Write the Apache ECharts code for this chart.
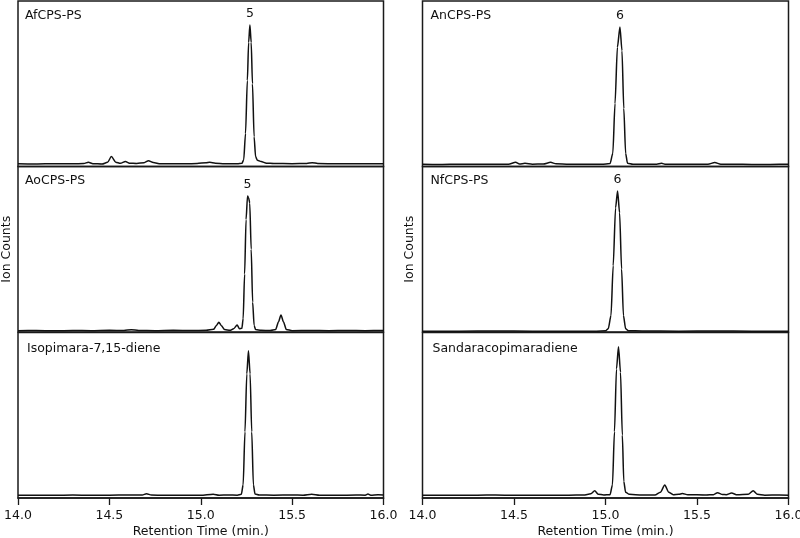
<!DOCTYPE html>
<html>
<head>
<meta charset="utf-8">
<script src="https://cdn.jsdelivr.net/npm/echarts@6/dist/echarts.min.js"></script>
<style>html,body{margin:0;padding:0;background:#fff}#c{width:800px;height:538px}</style>
</head>
<body>
<div id="c"></div>
<script>
// Panel titles and peak labels
const panelNames = ['AfCPS-PS', 'AoCPS-PS', 'Isopimara-7,15-diene', 'AnCPS-PS', 'NfCPS-PS', 'Sandaracopimaradiene'];
const peakLabels = ['5', '5', '', '6', '6', ''];
const xTicks = [14.0, 14.5, 15.0, 15.5, 16.0];

// Chromatogram traces: [retention time (min), relative ion counts]
const afCPS = [[14.0,1.6],[14.1,1.5],[14.2,1.7],[14.3,1.6],[14.36,1.8],[14.385,2.6],[14.41,1.7],[14.46,1.5],[14.49,2.5],[14.511,6.0],[14.535,2.6],[14.56,1.9],[14.588,3.0],[14.61,2.0],[14.65,1.8],[14.69,2.3],[14.714,3.5],[14.74,2.4],[14.78,1.6],[14.85,1.7],[14.92,1.6],[14.98,1.8],[15.03,2.3],[15.049,2.5],[15.08,2.0],[15.13,1.6],[15.2,1.6],[15.225,1.9],[15.235,4],[15.245,20],[15.255,52],[15.262,75],[15.269,85.5],[15.276,75],[15.283,50],[15.292,18],[15.3,6],[15.31,3.8],[15.33,3.0],[15.36,2.0],[15.4,1.8],[15.5,1.7],[15.58,1.8],[15.61,2.3],[15.64,1.8],[15.75,1.6],[15.85,1.7],[15.95,1.6],[16.0,1.7]];
const aoCPS = [[14.0,0.8],[14.1,0.9],[14.2,0.7],[14.3,0.9],[14.4,0.8],[14.5,1.0],[14.58,0.9],[14.62,1.4],[14.66,0.9],[14.75,0.8],[14.85,1.0],[14.95,0.9],[15.03,1.0],[15.07,1.6],[15.085,3.8],[15.099,5.9],[15.113,3.8],[15.13,1.5],[15.16,1.0],[15.18,2.0],[15.199,4.2],[15.212,2.0],[15.225,2.2],[15.232,8],[15.24,35],[15.248,68],[15.256,82.2],[15.262,81],[15.268,78],[15.276,50],[15.284,18],[15.292,4],[15.3,1.5],[15.33,1.0],[15.38,0.9],[15.41,1.5],[15.425,6],[15.439,10.3],[15.453,6],[15.468,1.5],[15.5,0.8],[15.6,0.9],[15.7,0.8],[15.8,0.9],[15.9,0.8],[16.0,0.9]];
const isopimara = [[14.0,1.6],[14.1,1.7],[14.2,1.6],[14.3,1.8],[14.4,1.6],[14.5,1.7],[14.6,1.8],[14.68,1.8],[14.703,2.6],[14.73,1.8],[14.8,1.6],[14.9,1.7],[15.0,1.6],[15.068,2.3],[15.1,1.7],[15.15,1.8],[15.2,1.7],[15.222,2.2],[15.232,8],[15.242,40],[15.252,75],[15.261,89],[15.27,75],[15.279,40],[15.288,8],[15.297,2.4],[15.32,1.8],[15.4,1.7],[15.5,1.8],[15.56,1.7],[15.607,2.3],[15.65,1.7],[15.75,1.6],[15.85,1.8],[15.9,1.7],[15.915,2.4],[15.93,1.7],[15.97,2.0],[16.0,1.8]];
const anCPS = [[14.0,1.3],[14.1,1.2],[14.2,1.4],[14.3,1.3],[14.4,1.3],[14.47,1.4],[14.509,2.5],[14.53,1.5],[14.56,1.9],[14.6,1.4],[14.66,1.5],[14.7,2.5],[14.73,1.6],[14.8,1.3],[14.9,1.3],[14.98,1.3],[15.025,1.8],[15.04,8],[15.052,38],[15.065,72],[15.079,84.3],[15.09,70],[15.1,35],[15.11,8],[15.12,2.0],[15.15,1.4],[15.2,1.3],[15.28,1.4],[15.306,1.9],[15.33,1.3],[15.45,1.3],[15.56,1.4],[15.597,2.4],[15.63,1.4],[15.75,1.3],[15.85,1.2],[15.95,1.3],[16.0,1.3]];
const nfCPS = [[14.0,0.5],[14.2,0.5],[14.4,0.6],[14.6,0.5],[14.8,0.5],[14.95,0.5],[15.0,0.7],[15.015,2],[15.03,10],[15.042,40],[15.055,75],[15.066,85.2],[15.077,72],[15.088,38],[15.098,10],[15.11,2],[15.125,0.8],[15.2,0.6],[15.4,0.5],[15.6,0.6],[15.8,0.5],[16.0,0.5]];
const sandaraco = [[14.0,1.6],[14.1,1.7],[14.2,1.6],[14.3,1.7],[14.4,1.8],[14.5,1.6],[14.6,1.7],[14.7,1.6],[14.8,1.7],[14.88,1.8],[14.92,2.5],[14.941,4.4],[14.96,2.3],[14.99,1.8],[15.025,2.0],[15.038,8],[15.049,40],[15.06,78],[15.071,91.4],[15.082,76],[15.092,38],[15.1,10],[15.11,3.5],[15.13,2.2],[15.2,1.8],[15.27,1.8],[15.3,3.5],[15.324,7.9],[15.345,3.5],[15.37,2.0],[15.4,2.2],[15.42,2.7],[15.45,2.0],[15.55,1.8],[15.59,2.0],[15.612,3.2],[15.64,2.1],[15.66,2.0],[15.689,3.0],[15.72,1.9],[15.78,2.2],[15.807,4.4],[15.83,2.2],[15.87,1.7],[15.95,1.8],[16.0,1.7]];

const traces = [afCPS, aoCPS, isopimara, anCPS, nfCPS, sandaraco];

const FONT = 'DejaVu Sans';
const colLeft = [18, 422.5];
const colWidth = [365.5, 366];
const yNameGap = [5, 6.5];
const rowTop = [1, 166.5, 332.5];
const rowH = 165.5;

const grids = [], xAxes = [], yAxes = [], series = [], titles = [];
for (let i = 0; i < 6; i++) {
  const col = Math.floor(i / 3), row = i % 3;
  grids.push({left: colLeft[col], top: rowTop[row], width: colWidth[col], height: rowH,
    containLabel: false, outerBoundsMode: 'none',
    show: true, borderColor: '#1a1a1a', borderWidth: 1.5, backgroundColor: 'transparent'});
  const bottom = row === 2;
  xAxes.push({type: 'value', gridIndex: i, min: xTicks[0], max: xTicks[xTicks.length-1], interval: 0.5,
    show: bottom,
    axisLine: {show: true, lineStyle: {color: '#1a1a1a', width: 1.5}},
    axisTick: {show: true, length: 7, lineStyle: {color: '#1a1a1a', width: 1.3}},
    axisLabel: {show: true, margin: 11, fontFamily: FONT, fontSize: 12.5, color: '#111',
      formatter: v => v.toFixed(1)},
    splitLine: {show: false},
    name: bottom ? 'Retention Time (min.)' : '', nameLocation: 'middle', nameGap: 27,
    nameTextStyle: {fontFamily: FONT, fontSize: 12.5, color: '#111'}});
  yAxes.push({type: 'value', gridIndex: i, min: 0, max: 100, show: row === 1,
    axisLine: {show: false}, axisTick: {show: false}, axisLabel: {show: false}, splitLine: {show: false},
    name: row === 1 ? 'Ion Counts' : '', nameLocation: 'middle', nameGap: yNameGap[col],
    nameTextStyle: {fontFamily: FONT, fontSize: 12.5, color: '#111'}});
  const data = traces[i];
  let peakIdx = 0;
  data.forEach((d, k) => { if (d[1] > data[peakIdx][1]) peakIdx = k; });
  const s = {type: 'line', xAxisIndex: i, yAxisIndex: i, data: data, showSymbol: false, symbol: 'none',
    smooth: 0.25, smoothMonotone: 'x', lineStyle: {color: '#111', width: 1.5}, silent: true, animation: false};
  if (peakLabels[i]) {
    s.markPoint = {symbol: 'circle', symbolSize: 1, itemStyle: {color: 'rgba(0,0,0,0)'}, silent: true,
      data: [{coord: data[peakIdx], label: {show: true, position: 'top', distance: 4, formatter: peakLabels[i],
        fontFamily: FONT, fontSize: 12.5, color: '#111'}}]};
  }
  series.push(s);
  titles.push({text: panelNames[i], padding: 0, left: colLeft[col] + (col === 0 ? 7 : 8) + (row === 2 ? 2 : 0), top: rowTop[row] + 8 + (row === 2 ? 2 : 0),
    textStyle: {fontFamily: FONT, fontSize: 12.5, fontWeight: 'normal', color: '#111'}});
}

const chart = echarts.init(document.getElementById('c'), null, {renderer: 'canvas'});
chart.setOption({animation: false, backgroundColor: '#fff', title: titles, grid: grids,
  xAxis: xAxes, yAxis: yAxes, series: series});
</script>
</body>
</html>
